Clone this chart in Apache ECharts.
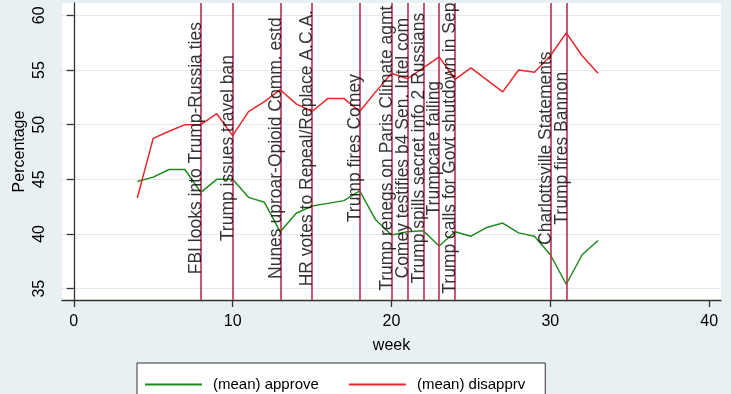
<!DOCTYPE html>
<html><head><meta charset="utf-8">
<script src="https://cdn.jsdelivr.net/npm/echarts@6/dist/echarts.min.js"></script>
<style>html,body{margin:0;padding:0;background:#e9f0f3;} #c{width:731px;height:394px;}</style>
</head><body><div id="c"></div>
<script>
const weeks = [4,5,6,7,8,9,10,11,12,13,14,15,16,17,18,19,20,21,22,23,24,25,26,27,28,29,30,31,32,33];
const approve = [44.8,45.2,45.9,45.9,43.8,45.0,45.0,43.35,42.9,40.2,41.9,42.55,42.8,43.05,43.95,41.3,39.9,40.2,40.3,38.9,40.2,39.8,40.6,41.0,40.1,39.8,38.1,35.4,38.1,39.4];
const disapprv = [43.3,48.75,49.4,50.0,50.0,51.0,49.0,51.2,52.1,53.2,51.9,51.2,52.4,52.4,51.2,53.0,54.7,54.2,55.2,56.2,54.15,55.2,54.1,53.0,55.0,54.8,56.3,58.4,56.3,54.7];
const eventWeeks = [8,10,13,15,18,20,21,22,23,24,30,31];
const eventLabels = [
  'FBI looks into Trump-Russia ties',
  'Trump issues travel ban',
  'Nunes uproar-Opioid Comm. estd',
  'HR votes to Repeal/Replace A.C.A.',
  'Trump fires Comey',
  'Trump renegs on Paris Climate agmt',
  'Comey testifies b4 Sen. Intel com',
  'Trump spills secret info 2 Russians',
  'Trumpcare failing',
  'Trump calls for Govt shutdown in Sep',
  'Charlottsville Statements',
  'Trump fires Bannon'
];
const eventLabelY = 47.85;
const xTicks = [0,10,20,30,40];
const yTicks = [35,40,45,50,55,60];

const FONT = '"Liberation Sans", Arial, Helvetica, sans-serif';
const chart = echarts.init(document.getElementById('c'), null, {renderer:'canvas'});
chart.setOption({
  animation: false,
  backgroundColor: '#e9f0f3',
  textStyle: {fontFamily: FONT, color: '#000'},
  grid: {left: 62, right: 10, top: 3, bottom: 94, show: true, backgroundColor: '#ffffff', borderWidth: 0},
  legend: {
    left: 137, top: 363,
    data: ['(mean) approve', '(mean) disapprv'],
    icon: 'rect',
    backgroundColor: '#ffffff', borderColor: '#333', borderWidth: 1,
    padding: [14, 20, 12, 8],
    itemWidth: 57, itemHeight: 2, itemGap: 30,
    textStyle: {fontSize: 15, fontFamily: FONT, color: '#000', padding: [0,0,0,6]}
  },
  xAxis: {
    type: 'value', min: -0.74, max: 40.74,
    name: 'week', nameLocation: 'middle', nameGap: 38,
    nameTextStyle: {fontSize: 16, fontFamily: FONT, color: '#000'},
    axisLine: {show: true, lineStyle: {color: '#333', width: 1.3}},
    axisTick: {show: true, length: 7, customValues: xTicks, lineStyle: {color: '#333', width: 1.3}},
    axisLabel: {customValues: xTicks, fontSize: 16, fontFamily: FONT, color: '#000', margin: 14},
    splitLine: {show: false}
  },
  yAxis: {
    type: 'value', min: 33.96, max: 61.13,
    name: 'Percentage', nameLocation: 'middle', nameGap: 34, nameRotate: 90, nameMoveOverlap: false,
    nameTextStyle: {fontSize: 16, fontFamily: FONT, color: '#000'},
    axisLine: {show: true, lineStyle: {color: '#333', width: 1.3}},
    axisTick: {show: true, length: 7, customValues: yTicks, lineStyle: {color: '#333', width: 1.3}},
    axisLabel: {customValues: yTicks, rotate: 90, fontSize: 16, fontFamily: FONT, color: '#000', margin: 14},
    splitLine: {show: true, lineStyle: {color: '#e2eaed', width: 1}}
  },
  series: [
    {
      name: '(mean) approve', type: 'line', symbol: 'none',
      data: weeks.map((w, i) => [w, approve[i]]),
      lineStyle: {color: '#1e8c1e', width: 1.5}, itemStyle: {color: '#1e8c1e'},
      z: 3,
      markLine: {
        silent: true, symbol: ['none', 'none'], label: {show: false},
        lineStyle: {color: '#bf2d55', width: 1.6, type: 'solid'},
        data: eventWeeks.map(w => ({xAxis: w}))
      }
    },
    {
      name: '(mean) disapprv', type: 'line', symbol: 'none',
      data: weeks.map((w, i) => [w, disapprv[i]]),
      lineStyle: {color: '#e8262b', width: 1.5}, itemStyle: {color: '#e8262b'},
      z: 3
    },
    {
      name: 'events', type: 'scatter', symbolSize: 0, silent: true, z: 5,
      data: eventWeeks.map((w, i) => ({value: [w, eventLabelY], name: eventLabels[i]})),
      label: {
        show: true, position: 'inside', rotate: 90, formatter: p => p.name,
        fontSize: 17.5, lineHeight: 9, fontFamily: FONT, color: '#000', align: 'center', verticalAlign: 'bottom'
      }
    }
  ]
});
</script></body></html>
